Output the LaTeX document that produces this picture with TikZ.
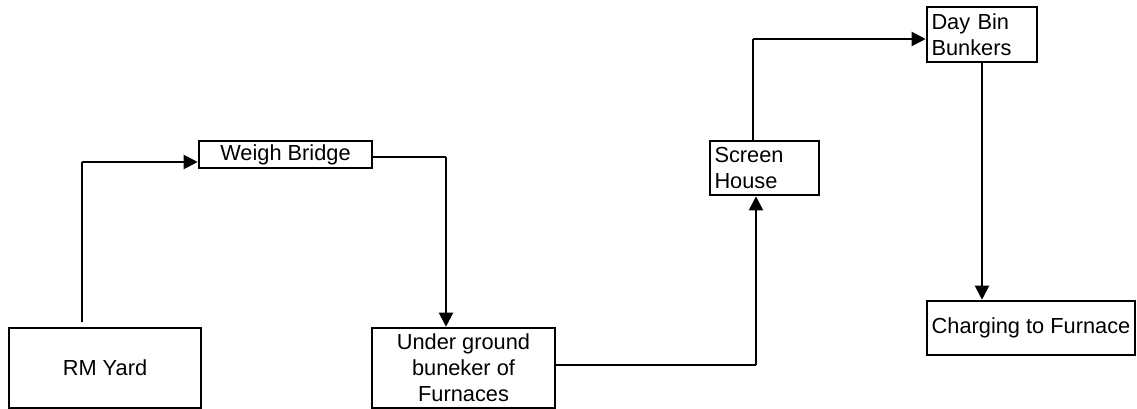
\documentclass[tikz,border=0pt]{standalone}
\usepackage{fontspec}
\setmainfont{Liberation Sans}
\usetikzlibrary{arrows.meta}
\begin{document}
\begin{tikzpicture}[x=0.02cm, y=-0.02cm,
  every node/.style={font=\fontsize{12.4}{14.8}\selectfont},
  box/.style={draw,line width=1.5pt,inner sep=0pt,align=center},
  lbox/.style={draw,line width=1.5pt,inner xsep=0.09cm,inner ysep=0pt,align=left},
  link/.style={line width=0.7pt},
  flow/.style={line width=1.2pt,-{Triangle[length=2.8mm,width=2.8mm]}}]
\useasboundingbox (0,0) rectangle (1137,409);
% boxes
\node[box,minimum width=3.84cm,minimum height=1.6cm] (rm) at (105,368) {RM Yard};
\node[box,minimum width=3.46cm,minimum height=0.54cm] (wb) at (285.5,154.5) {Weigh Bridge};
\node[box,minimum width=3.66cm,minimum height=1.6cm] (ug) at (463.5,368) {Under ground\\buneker of\\Furnaces};
\node[lbox,text width=2.0cm,minimum height=1.08cm] (sh) at (764.5,168) {Screen\\House};
\node[lbox,text width=2.02cm,minimum height=1.1cm] (db) at (982,34.5) {Day Bin\\Bunkers};
\node[box,minimum width=4.16cm,minimum height=1.08cm] (ch) at (1031,328) {Charging to Furnace};
% bends
\coordinate (c1) at (82,162);
\coordinate (c2) at (446,157);
\coordinate (c3) at (756,365);
\coordinate (c4) at (753,39);
% connectors
\draw[link] ([yshift=0.1cm]rm.north -| c1) -- (c1);
\draw[flow] (c1) -- (wb.west |- c1);
\draw[link] (wb.east |- c2) -- (c2);
\draw[flow] (c2) -- (ug.north -| c2);
\draw[link] (ug.east |- c3) -- (c3);
\draw[flow] (c3) -- (sh.south -| c3);
\draw[link] (sh.north -| c4) -- (c4);
\draw[flow] (c4) -- (db.west |- c4);
\draw[flow] (db.south) -- (ch.north -| db.south);
\end{tikzpicture}
\end{document}
